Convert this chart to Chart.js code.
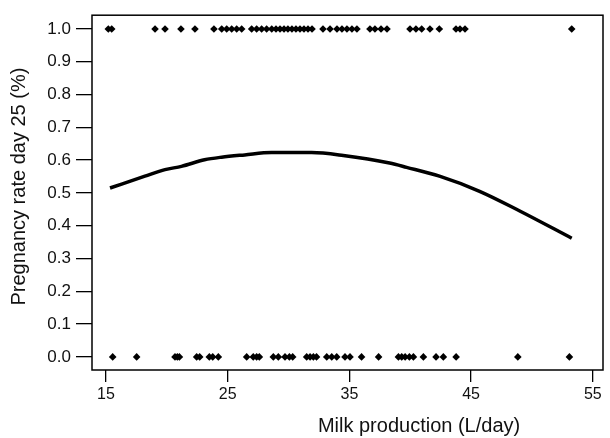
<!DOCTYPE html>
<html>
<head>
<meta charset="utf-8">
<script src="https://cdn.jsdelivr.net/npm/chart.js@4"></script>
<style>
body{margin:0;background:#fff;}
</style>
</head>
<body>
<canvas id="milkChart" width="610" height="438"></canvas>
<script>

// cows pregnant at day 25 (rate = 1)
const milkPregnant = [15.19,15.47,19.03,19.85,21.16,22.31,23.87,24.51,24.92,25.33,25.74,26.15,
26.97,27.38,27.79,28.2,28.62,28.97,29.3,29.63,29.95,30.28,30.61,30.94,31.27,31.6,31.93,
32.83,33.41,33.98,34.39,34.8,35.21,35.62,36.69,37.1,37.6,38.09,39.98,40.47,40.94,41.62,
42.39,43.76,44.09,44.5,53.27];

// cows not pregnant (rate = 0)
const milkOpen = [15.55,17.52,20.67,20.86,21.03,22.45,22.7,23.49,23.77,24.23,26.56,27.1,27.38,
27.6,28.75,29.16,29.71,30.07,30.34,31.49,31.77,32.04,32.3,33.14,33.55,33.96,34.64,35.05,
36.0,37.4,39.03,39.3,39.58,39.93,40.26,41.08,42.12,42.72,43.77,48.84,53.08];

// fitted curve
const curveMilk = [15.33,18.2,19.85,21.2,23.1,24.5,26.4,28.6,31.9,34.5,38.3,39.7,42.4,45.7,49.0,53.27];
const curveRate = [0.515,0.551,0.571,0.581,0.601,0.609,0.616,0.623,0.623,0.614,0.591,0.578,0.551,0.505,0.445,0.362];

const xTicks = [15,25,35,45,55];
const yTicks = [0,0.1,0.2,0.3,0.4,0.5,0.6,0.7,0.8,0.9,1.0];

const xTitle = "Milk production (L/day)";
const yTitle = "Pregnancy rate day 25 (%)";

const fontFamily = "'Liberation Sans', Arial, sans-serif";


const dots = milkPregnant.map(v => ({x:v, y:1}))
  .concat(milkOpen.map(v => ({x:v, y:0})));

const curve = curveMilk.map((v,i) => ({x:v, y:curveRate[i]}));


// box round plot + axis titles
const boxPlugin = {
  id:"box",
  afterDraw(chart){
    const ctx = chart.ctx;
    const a = chart.chartArea;
    ctx.save();
    ctx.strokeStyle = "#000";
    ctx.lineWidth = 1.5;
    ctx.strokeRect(a.left, a.top, a.right - a.left, a.bottom - a.top);

    ctx.fillStyle = "#111";
    ctx.font = "20px " + fontFamily;
    ctx.textAlign = "center";
    ctx.textBaseline = "alphabetic";
    ctx.fillText(xTitle, a.left + (a.right - a.left) * 0.64, chart.height - 6);

    ctx.translate(25, (a.top + a.bottom) / 2 - 6);
    ctx.rotate(-Math.PI / 2);
    ctx.fillText(yTitle, 0, 0);
    ctx.restore();
  }
};


new Chart(document.getElementById("milkChart"), {
  type:"scatter",
  data:{
    datasets:[
      {
        label:"cows",
        data:dots,
        pointStyle:"rectRot",
        pointRadius:3.8,
        pointBorderWidth:0,
        backgroundColor:"#000",
        borderColor:"#000"
      },
      {
        label:"fit",
        data:curve,
        showLine:true,
        pointRadius:0,
        borderColor:"#000",
        borderWidth:3.5,
        tension:0.4,
        cubicInterpolationMode:"monotone"
      }
    ]
  },
  options:{
    responsive:false,
    animation:false,
    devicePixelRatio:1,
    layout:{padding:{top:13, right:7, left:0, bottom:0}},
    plugins:{
      legend:{display:false},
      tooltip:{enabled:false}
    },
    scales:{
      x:{
        type:"linear",
        min:13.85,
        max:55.84,
        afterBuildTicks: s => { s.ticks = xTicks.map(v => ({value:v})); },
        afterFit: s => { s.height = 68; },
        grid:{drawOnChartArea:false, drawTicks:true, tickLength:12, color:"#000", lineWidth:1.3},
        border:{display:false},
        ticks:{autoSkip:false, maxRotation:0, color:"#111", padding:3, font:{size:16, family:fontFamily}}
      },
      y:{
        min:-0.04,
        max:1.042,
        afterBuildTicks: s => { s.ticks = yTicks.map(v => ({value:v})); },
        afterFit: s => { s.width = 92; },
        grid:{drawOnChartArea:false, drawTicks:true, tickLength:16, color:"#000", lineWidth:1.3},
        border:{display:false},
        ticks:{autoSkip:false, color:"#111", padding:5, callback: v => v.toFixed(1), font:{size:17, family:fontFamily}}
      }
    }
  },
  plugins:[boxPlugin]
});

</script>
</body>
</html>
